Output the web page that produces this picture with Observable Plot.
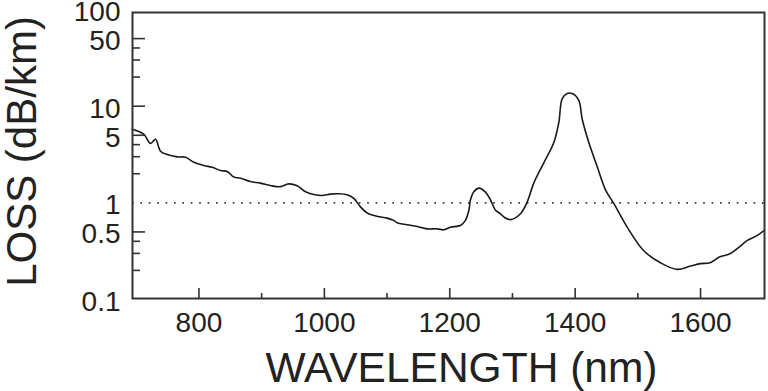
<!DOCTYPE html>
<html>
<head>
<meta charset="utf-8">
<script src="https://cdn.jsdelivr.net/npm/d3@7"></script>
<script src="https://cdn.jsdelivr.net/npm/@observablehq/plot@0.6"></script>
<style>
  html, body { margin: 0; padding: 0; background: #fff; }
</style>
</head>
<body>
<div id="chart"></div>
<script>
// Attenuation spectrum of a silica fibre (wavelength in nm, loss in dB/km)
const wavelength = [
  693.5, 712, 722.7, 730.7, 738.7, 749.3, 765.3, 778.5, 791.8, 807.8,
  821, 834.3, 845, 855.6, 866.3, 882, 898, 914, 930, 943,
  956.6, 970, 983, 996.5, 1009.8, 1023, 1036.4, 1047, 1057.6, 1068.3,
  1084, 1100, 1110.7, 1116, 1132, 1148, 1164, 1180, 1190.6, 1201,
  1217, 1225, 1230.5, 1233, 1238.4, 1246.5, 1257, 1265, 1273, 1281,
  1288, 1297, 1312.8, 1323.5, 1334, 1350, 1366, 1374, 1379.3, 1387.3,
  1395.3, 1405.8, 1411.2, 1421.8, 1435.1, 1448.4, 1461.6, 1483, 1509.5, 1536,
  1562.7, 1584, 1600, 1615, 1630, 1647.7, 1662, 1674, 1690, 1701
];
const loss = [
  5.78, 5.13, 4.12, 4.54, 3.42, 3.16, 2.99, 2.96, 2.63, 2.43,
  2.33, 2.16, 2.11, 1.85, 1.80, 1.66, 1.60, 1.51, 1.47, 1.57,
  1.50, 1.30, 1.22, 1.19, 1.23, 1.24, 1.21, 1.11, 0.908, 0.785,
  0.725, 0.695, 0.658, 0.622, 0.593, 0.569, 0.538, 0.538, 0.526, 0.560,
  0.583, 0.658, 0.838, 1.07, 1.30, 1.42, 1.29, 1.07, 0.838, 0.77,
  0.70, 0.67, 0.772, 1.02, 1.60, 2.59, 4.20, 6.80, 11.9, 13.5,
  13.5, 11.5, 7.36, 4.20, 2.38, 1.36, 0.985, 0.560, 0.319, 0.240,
  0.205, 0.222, 0.235, 0.240, 0.275, 0.299, 0.35, 0.406, 0.458, 0.517
];

const xTickLabels = [800, 1000, 1200, 1400, 1600];
const xMinorTicks = [900, 1100, 1300, 1500];
const yTickLabels = [0.1, 0.5, 1, 5, 10, 50, 100];
const yMajorTicks = [0.5, 5, 10, 50];
const yMinorTicks = [0.2, 0.3, 0.4, 2, 3, 4, 20, 30, 40];
const referenceLoss = 1;
const xTitle = "WAVELENGTH (nm)";
const yTitle = "LOSS (dB/km)";

const spectrum = wavelength.map((w, i) => ({wavelength: w, loss: loss[i]}));

const W = 768, H = 391;
const mL = 132, mR = 4, mT = 9, mB = 92;
const plotW = W - mL - mR, plotH = H - mT - mB;
const ink = "#222";
const frameInk = "#333";

const chart = Plot.plot({
  width: W,
  height: H,
  marginLeft: mL,
  marginRight: mR,
  marginTop: mT,
  marginBottom: mB,
  style: {fontFamily: "'Liberation Sans', Arial, Helvetica, sans-serif", color: ink, background: "#fff"},
  x: {domain: [694, 1702], label: null},
  y: {type: "log", domain: [0.1, 100], label: null, axis: null},
  marks: [
    // dotted reference level at 1 dB/km
    Plot.ruleY([referenceLoss], {stroke: frameInk, strokeWidth: 1.6, strokeDasharray: "1.6,6.8"}),
    // loss curve
    Plot.line(spectrum, {x: "wavelength", y: "loss", stroke: "#1a1a1a", strokeWidth: 1.6, curve: "catmull-rom"}),
    // inward ticks on the left edge
    Plot.tickY(yMajorTicks, {y: d => d, insetRight: plotW - 13, stroke: frameInk, strokeWidth: 1.6}),
    Plot.tickY(yMinorTicks, {y: d => d, insetRight: plotW - 8, stroke: frameInk, strokeWidth: 1.6}),
    // inward ticks on the bottom edge
    Plot.tickX(xTickLabels, {x: d => d, insetBottom: 1, insetTop: plotH - 11, stroke: frameInk, strokeWidth: 1.6}),
    Plot.tickX(xMinorTicks, {x: d => d, insetBottom: 1, insetTop: plotH - 6, stroke: frameInk, strokeWidth: 1.6}),
    Plot.frame({stroke: frameInk, strokeWidth: 2, insetTop: 3, insetBottom: 1}),
    // y tick labels
    Plot.text(yTickLabels, {
      y: d => d, frameAnchor: "left", textAnchor: "end", lineAnchor: "middle",
      dx: -12, dy: 2.5, fontSize: 28, text: d => String(d)
    }),
    Plot.axisX({ticks: xTickLabels, tickSize: 0, tickPadding: 13, fontSize: 28, tickFormat: d => String(d), label: null}),
    // axis titles
    Plot.text([xTitle], {
      frameAnchor: "bottom", textAnchor: "middle", lineAnchor: "middle",
      dx: 13, dy: 69, fontSize: 42.5, text: d => d
    }),
    Plot.text([yTitle], {
      frameAnchor: "left", textAnchor: "middle", lineAnchor: "middle", rotate: -90,
      dx: -110, dy: -3, fontSize: 42, text: d => d
    })
  ]
});

document.getElementById("chart").appendChild(chart);
</script>
</body>
</html>
